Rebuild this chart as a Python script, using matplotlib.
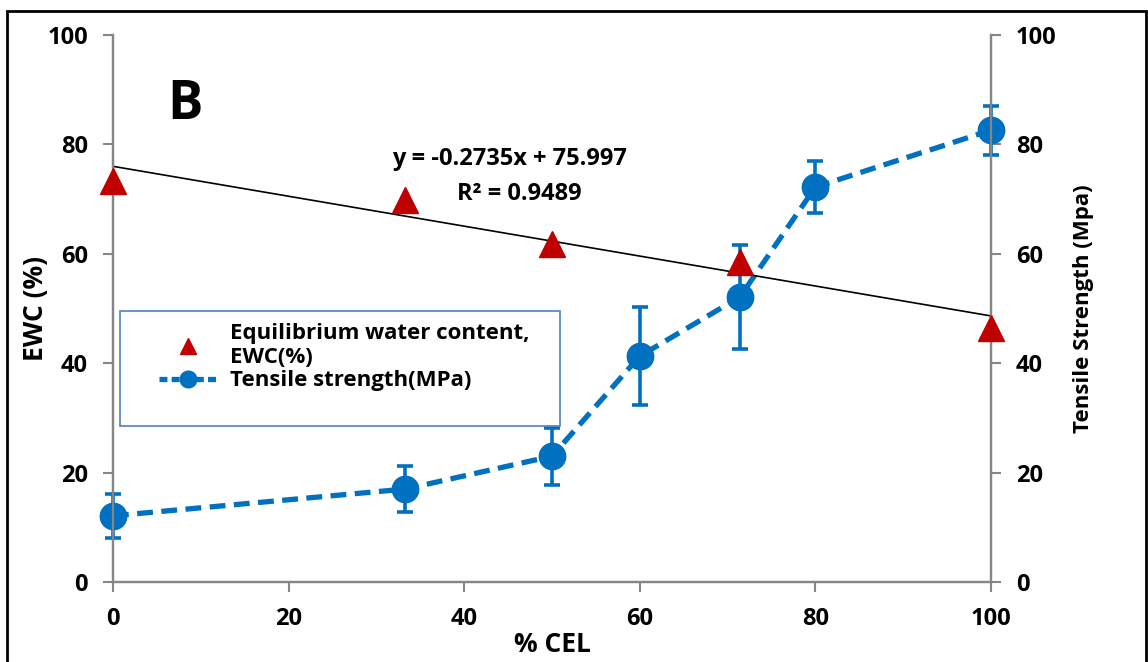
import matplotlib.pyplot as plt
from matplotlib.patches import Rectangle
from matplotlib.lines import Line2D

plt.rcParams['font.family'] = ['Open Sans', 'DejaVu Sans']
plt.rcParams['font.weight'] = 'bold'

# EWC (primary axis)
ewc_x = [0, 33.3, 50, 71.4, 100]
ewc_y = [73.3, 69.8, 61.8, 58.5, 46.4]

# tensile strength (secondary axis)
ts_x = [0, 33.3, 50, 60, 71.4, 80, 100]
ts_y = [12.1, 17.0, 23.0, 41.3, 52.1, 72.2, 82.6]
ts_err = [4.0, 4.2, 5.2, 9.0, 9.5, 4.8, 4.5]

# linear fit of EWC
slope = -0.2735
intercept = 75.997
fit_x = [0, 100]

red = '#C00000'
blue = '#0070C0'
grey = '#868686'

fig = plt.figure(figsize=(11.48, 6.62), dpi=100)
ax = fig.add_axes([0.0984, 0.1208, 0.7648, 0.8263])
ax2 = ax.twinx()

ax.plot(fit_x, [slope * v + intercept for v in fit_x], color='black', lw=1.2, zorder=2)
ax.plot(ewc_x, ewc_y, ls='none', marker='^', ms=19, color=red, zorder=3, clip_on=False)

eb = ax2.errorbar(ts_x, ts_y, yerr=ts_err, color=blue, ls='--', lw=3.8, dashes=(3.0, 1.6),
                  marker='o', ms=19, elinewidth=2.6, capsize=6, capthick=2.6, zorder=4)
for art in eb.lines[0:1] + eb.lines[1] + eb.lines[2]:
    art.set_clip_on(False)

for a in (ax, ax2):
    a.set_xlim(0, 100)
    a.set_ylim(0, 100)
    a.set_yticks(range(0, 101, 20))
    a.spines['top'].set_visible(False)
    for s in ('left', 'right', 'bottom'):
        a.spines[s].set_color(grey)
        a.spines[s].set_linewidth(1.6)
    a.tick_params(colors=grey, width=1.5, length=7, labelsize=17, pad=11,
                  labelcolor='black')
ax.set_xticks(range(0, 101, 20))
ax.set_zorder(ax2.get_zorder() + 1)
ax.patch.set_visible(False)

ax.set_xlabel('% CEL', fontsize=19, fontweight='bold', labelpad=0)
ax.set_ylabel('EWC (%)', fontsize=19, fontweight='bold', labelpad=-1)
ax2.set_ylabel('Tensile Strength (Mpa)', fontsize=16, fontweight='bold', labelpad=12)

ax.text(8.2, 87.2, 'B', fontsize=38, fontweight='bold', ha='center', va='center')
ax.text(45.2, 77.3, 'y = -0.2735x + 75.997', fontsize=17, fontweight='bold',
        ha='center', va='center')
ax.text(46.3, 70.9, 'R² = 0.9489', fontsize=17, fontweight='bold',
        ha='center', va='center')

# legend box
ax.add_patch(Rectangle((0.008, 0.285), 0.501, 0.21, transform=ax.transAxes,
                       fill=True, facecolor='white', edgecolor='#4F81BD', lw=1.2,
                       zorder=5))
handles = [Line2D([], [], ls='none', marker='^', ms=11, color=red),
           Line2D([], [], ls='--', lw=3.8, dashes=(1.5, 0.8), marker='o', ms=12,
                  color=blue)]
leg = ax.legend(handles, ['Equilibrium water content,\nEWC(%)', 'Tensile strength(MPa)'],
                loc='upper left', bbox_to_anchor=(0.03, 0.51), frameon=False,
                prop={'size': 16, 'weight': 'bold'}, handlelength=2.6,
                handletextpad=0.6, labelspacing=0.1)
leg.set_zorder(6)

# outer frame
fig.add_artist(Rectangle((0.006, -0.01), 0.992, 0.994, transform=fig.transFigure,
                         fill=False, edgecolor='black', lw=2))

fig.savefig('out.png', dpi=100)
